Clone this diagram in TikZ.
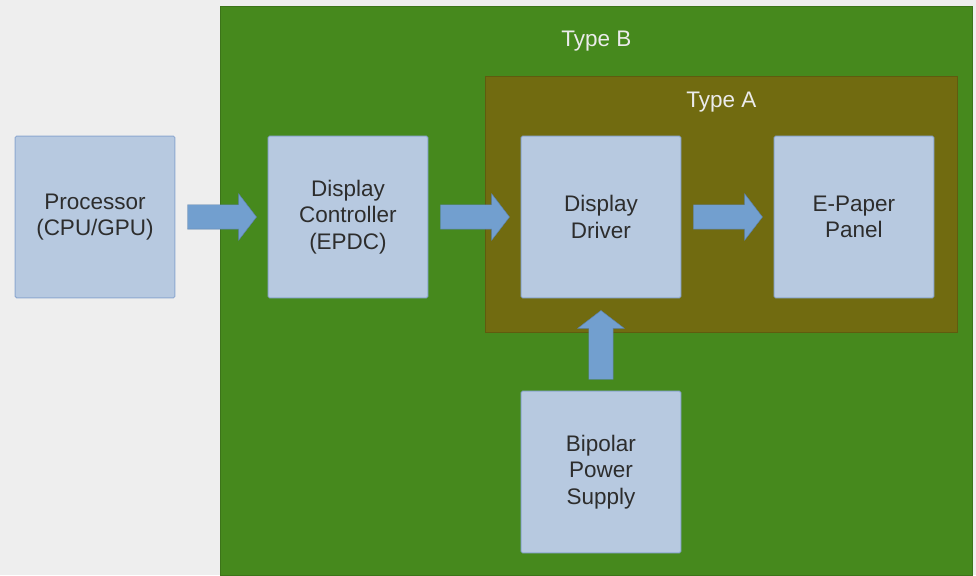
\documentclass[tikz,border=0pt]{standalone}
\usepackage{fontspec}
\setmainfont{Liberation Sans}
\definecolor{mybg}{RGB}{238,238,238}
\definecolor{mygreen}{RGB}{70,137,29}
\definecolor{myolive}{RGB}{113,107,16}
\definecolor{mybox}{RGB}{183,201,224}
\definecolor{myboxline}{RGB}{140,168,208}
\definecolor{myarrowfill}{RGB}{114,159,207}
\definecolor{mytext}{RGB}{45,45,45}
\usepackage{tikz}
\usetikzlibrary{calc,positioning,fit,shapes.arrows,backgrounds}

\begin{document}
\begin{tikzpicture}[
  myblock/.style={
    draw=myboxline,
    fill=mybox,
    line width=0.7pt,
    rounded corners=1pt,
    minimum width=3.99cm,
    minimum height=4.04cm,
    text width=3.7cm,
    align=center,
    text=mytext,
    font=\fontsize{16}{19}\selectfont
    },
  myarrow/.style={
    single arrow,
    draw=myarrowfill!80!black,
    fill=myarrowfill,
    line width=0.3pt,
    inner xsep=0pt,
    inner ysep=0.3cm,
    minimum height=1.725cm,
    single arrow head extend=0.275cm,
    single arrow tip angle=105,
    anchor=tail
    },
  myuparrow/.style={
    myarrow,
    shape border rotate=90,
    inner xsep=0.3cm,
    inner ysep=0pt
    },
  myregion/.style={
    draw=#1!85!black,
    fill=#1,
    line width=0.7pt,
    inner sep=0pt
    },
  mylabel/.style={
    below,
    text=white!92!black,
    font=\fontsize{16}{19}\selectfont
    },
  node distance=2.31cm
]

% the blocks
\node[myblock] (proc) at (2.375,-5.425) {Processor\\(CPU/GPU)};
\node[myblock, right=of proc] (ctrl) {Display\\Controller\\(EPDC)};
\node[myblock, right=of ctrl] (drv) {Display\\Driver};
\node[myblock, right=of drv] (pnl) {E-Paper\\Panel};
\node[myblock, below=of drv] (pwr) {Bipolar\\Power\\Supply};

% the arrows
\node[myarrow] (arr1) at ($(proc.east)+(0.3,0)$) {};
\node[myarrow] (arr2) at ($(ctrl.east)+(0.3,0)$) {};
\node[myarrow] (arr3) at ($(drv.east)+(0.3,0)$) {};
\node[myuparrow] (arr4) at ($(pwr.north)+(0,0.275)$) {};

% Type B and Type A regions
\begin{pgfonlayer}{background}
  \fill[mybg] (0,0) rectangle (24.4,-14.375);
  \coordinate (b1) at ($(ctrl.west |- drv.north)+(-1.175,3.225)$);
  \coordinate (b2) at ($(pnl.east |- pwr.south)+(0.95,-0.55)$);
  \node[myregion=mygreen, fit=(b1)(b2)] (typeB) {};
  \coordinate (a1) at ($(drv.north west)+(-0.875,1.475)$);
  \coordinate (a2) at ($(pnl.south east)+(0.575,-0.85)$);
  \node[myregion=myolive, fit=(a1)(a2)] (typeA) {};
\end{pgfonlayer}

\node[mylabel] at ($(typeB.north)+(0,-0.5)$) {Type B};
\node[mylabel] at ($(typeA.north)+(0,-0.275)$) {Type A};

\useasboundingbox (0,0) rectangle (24.4,-14.375);
\end{tikzpicture}
\end{document}
